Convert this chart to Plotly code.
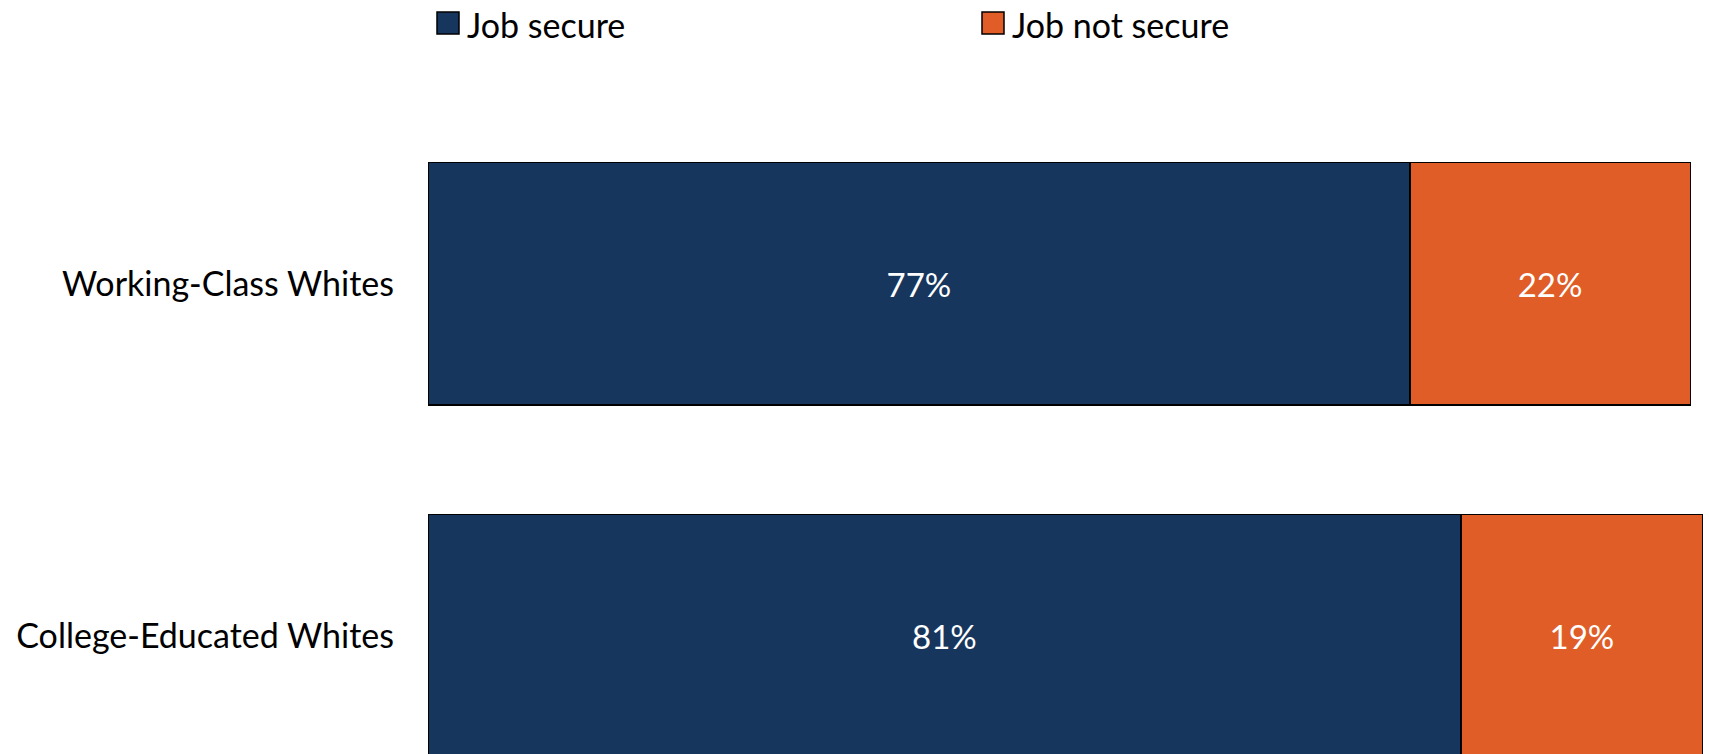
import plotly.graph_objects as go

categories = ["College-Educated Whites", "Working-Class Whites"]
secure = [81, 77]
not_secure = [19, 22]
series_names = ["Job secure", "Job not secure"]
colors = ["#17365D", "#E05D27"]

FONT = "Lato"
FS = 34
FS_LAB = 33

W, H = 1709, 754
L, R, T, B = 428, 6, 108, 0
pw, ph = W - L - R, H - T - B

fig = go.Figure()
for name, vals, col in zip(series_names, [secure, not_secure], colors):
    fig.add_trace(go.Bar(
        y=categories, x=vals, name=name, orientation="h",
        marker=dict(color=col, line=dict(color="#000000", width=1.5)),
        text=[f"{v}%" for v in vals], textposition="inside",
        insidetextanchor="middle",
        textfont=dict(family=FONT, size=FS_LAB, color="#FFFFFF"),
        showlegend=False,
    ))

def px(x):
    return (x - L) / pw
def py(y):
    return 1 + (T - y) / ph

leg_x = [437, 982]
for name, col, x0 in zip(series_names, colors, leg_x):
    fig.add_shape(type="rect", xref="paper", yref="paper",
                  x0=px(x0), x1=px(x0 + 22), y0=py(34), y1=py(12),
                  fillcolor=col, line=dict(color="#000000", width=1.5))
    fig.add_annotation(text=name, xref="paper", yref="paper",
                       x=px(x0 + 28), y=py(24), xanchor="left", yanchor="middle",
                       showarrow=False, font=dict(family=FONT, size=FS, color="#000000"))

fig.update_layout(
    barmode="stack", bargap=0.31,
    width=W, height=H,
    margin=dict(l=L, r=R, t=T, b=B, autoexpand=False),
    plot_bgcolor="white", paper_bgcolor="white",
    font=dict(family=FONT, size=FS, color="#000000"),
)
fig.update_xaxes(range=[0, 100], visible=False, fixedrange=True, automargin=False)
fig.update_yaxes(range=[-0.3366, 1.5], showgrid=False, zeroline=False,
                 showline=False, ticks="", ticklabelstandoff=33, automargin=False,
                 tickfont=dict(family=FONT, size=FS, color="#000000"))

fig.write_html("out.html", config={"displayModeBar": False},
               post_script="document.body.style.margin='0';")
